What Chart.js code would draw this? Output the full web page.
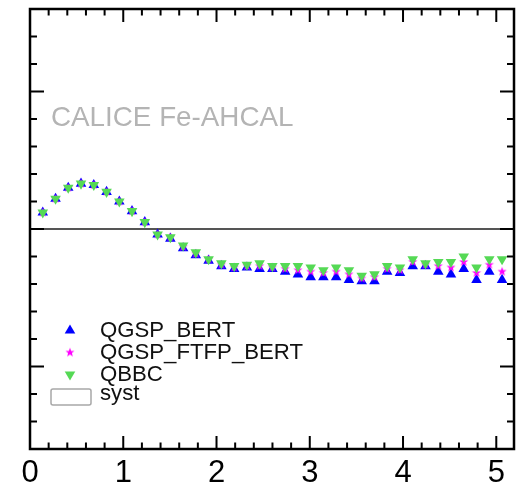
<!DOCTYPE html>
<html>
<head>
<meta charset="utf-8">
<script src="https://cdn.jsdelivr.net/npm/chart.js@4"></script>
<style>
  html, body { margin: 0; padding: 0; background: #fff; }
  canvas { display: block; }
</style>
</head>
<body>
<canvas id="c" width="521" height="490"></canvas>
<script>
// ── Data ──────────────────────────────────────────────────────
const X = [0.137, 0.274, 0.410, 0.547, 0.684, 0.821, 0.958, 1.094, 1.231, 1.368,
           1.505, 1.642, 1.778, 1.915, 2.052, 2.189, 2.326, 2.462, 2.599, 2.736,
           2.873, 3.010, 3.146, 3.283, 3.420, 3.557, 3.694, 3.830, 3.967, 4.104,
           4.241, 4.378, 4.514, 4.651, 4.788, 4.925, 5.062];

const QGSP_BERT = [1.012, 1.022, 1.030, 1.033, 1.032, 1.027, 1.020, 1.013, 1.005, 0.996,
                   0.993, 0.986, 0.981, 0.977, 0.973, 0.971, 0.972, 0.971, 0.971, 0.969,
                   0.967, 0.965, 0.965, 0.965, 0.963, 0.962, 0.962, 0.969, 0.968, 0.973,
                   0.973, 0.969, 0.967, 0.971, 0.963, 0.969, 0.963];

const QGSP_FTFP_BERT = [1.012, 1.022, 1.030, 1.033, 1.032, 1.027, 1.020, 1.013, 1.005, 0.996,
                        0.994, 0.987, 0.982, 0.978, 0.974, 0.972, 0.973, 0.973, 0.972, 0.971,
                        0.970, 0.969, 0.968, 0.969, 0.967, 0.964, 0.965, 0.971, 0.970, 0.976,
                        0.974, 0.973, 0.972, 0.976, 0.968, 0.974, 0.969];

const QBBC = [1.012, 1.022, 1.030, 1.033, 1.032, 1.027, 1.020, 1.013, 1.005, 0.996,
              0.994, 0.988, 0.983, 0.978, 0.975, 0.973, 0.974, 0.975, 0.973, 0.973,
              0.973, 0.972, 0.970, 0.972, 0.970, 0.966, 0.967, 0.973, 0.972, 0.978,
              0.975, 0.976, 0.976, 0.980, 0.972, 0.978, 0.978];

const X_MAJOR = [0, 1, 2, 3, 4, 5];
const X_MINOR = [0.2, 0.4, 0.6, 0.8, 1.2, 1.4, 1.6, 1.8, 2.2, 2.4, 2.6, 2.8,
                 3.2, 3.4, 3.6, 3.8, 4.2, 4.4, 4.6, 4.8];
const Y_MAJOR = [0.9, 1.0, 1.1];
const Y_MINOR = [0.86, 0.88, 0.92, 0.94, 0.96, 0.98, 1.02, 1.04, 1.06, 1.08, 1.12, 1.14];
const REF_LINE = 1.0;
const TITLE = 'CALICE Fe-AHCAL';

const BLUE = '#0000ff';
const PINK = '#ff00ff';
const GREEN = '#55d955';
const FONT = "'Liberation Sans', Arial, sans-serif";

// filled five-point star (ROOT marker 29) as an image point style
function makeStar(color, rOut, rIn) {
  const s = Math.ceil(rOut * 2 + 2);
  const cv = document.createElement('canvas');
  cv.width = s; cv.height = s;
  const g = cv.getContext('2d');
  g.fillStyle = color;
  g.beginPath();
  for (let i = 0; i < 10; i++) {
    const r = i % 2 ? rIn : rOut;
    const a = -Math.PI / 2 + i * Math.PI / 5;
    const px = s / 2 + r * Math.cos(a), py = s / 2 + r * Math.sin(a);
    i ? g.lineTo(px, py) : g.moveTo(px, py);
  }
  g.closePath();
  g.fill();
  return cv;
}
const STAR = makeStar(PINK, 4.8, 2);

const pts = ys => X.map((x, i) => ({ x, y: ys[i] }));

const series = [
  { label: 'QGSP_BERT', data: pts(QGSP_BERT), pointStyle: 'triangle', rotation: 0,
    radius: 6.1, color: BLUE, order: 3 },
  { label: 'QGSP_FTFP_BERT', data: pts(QGSP_FTFP_BERT), pointStyle: STAR, rotation: 0,
    radius: 4, color: PINK, order: 2 },
  { label: 'QBBC', data: pts(QBBC), pointStyle: 'triangle', rotation: 180,
    radius: 6.1, color: GREEN, order: 1 }
];

// ── Frame, inward ticks, reference line, text and legend ───────
const decor = {
  id: 'decor',
  beforeDatasetsDraw(chart) {
    const { ctx, chartArea: a, scales: { x, y } } = chart;
    ctx.save();
    ctx.strokeStyle = '#555';
    ctx.lineWidth = 2.2;
    const yr = y.getPixelForValue(REF_LINE);
    ctx.beginPath(); ctx.moveTo(a.left, yr); ctx.lineTo(a.right, yr); ctx.stroke();

    ctx.fillStyle = '#b4b4b4';
    ctx.font = '27.8px ' + FONT;
    ctx.textBaseline = 'alphabetic';
    ctx.fillText(TITLE, 51, 126);
    ctx.restore();
  },
  afterDraw(chart) {
    const { ctx, chartArea: a, scales: { x, y } } = chart;
    ctx.save();
    ctx.strokeStyle = '#000';
    ctx.lineWidth = 2;
    const tick = (vals, len) => {
      vals.forEach(v => {
        const px = x.getPixelForValue(v);
        ctx.beginPath();
        ctx.moveTo(px, a.bottom); ctx.lineTo(px, a.bottom - len);
        ctx.moveTo(px, a.top); ctx.lineTo(px, a.top + len);
        ctx.stroke();
      });
    };
    const ytick = (vals, len) => {
      vals.forEach(v => {
        const py = y.getPixelForValue(v);
        ctx.beginPath();
        ctx.moveTo(a.left, py); ctx.lineTo(a.left + len, py);
        ctx.moveTo(a.right, py); ctx.lineTo(a.right - len, py);
        ctx.stroke();
      });
    };
    tick(X_MAJOR, 13); tick(X_MINOR, 6.5);
    ytick(Y_MAJOR, 14); ytick(Y_MINOR, 7);

    ctx.lineWidth = 2.5;
    ctx.strokeRect(a.left, a.top, a.right - a.left, a.bottom - a.top);

    // legend
    ctx.font = '22.2px ' + FONT;
    ctx.textBaseline = 'alphabetic';
    const rows = [337, 359, 381];
    series.forEach((s, i) => {
      ctx.fillStyle = s.color;
      ctx.strokeStyle = s.color;
      Chart.helpers.drawPoint(ctx, { pointStyle: s.pointStyle, rotation: s.rotation,
        radius: s.radius, borderWidth: 0 }, 70, rows[i] - 6.5);
      ctx.fillStyle = '#111';
      ctx.fillText(s.label, 100, rows[i]);
    });
    ctx.strokeStyle = '#a8a8a8';
    ctx.lineWidth = 1.5;
    ctx.beginPath();
    ctx.roundRect(51, 389, 40, 16, 2);
    ctx.stroke();
    ctx.fillStyle = '#111';
    ctx.fillText('syst', 100, 400);
    ctx.restore();
  }
};

new Chart(document.getElementById('c'), {
  type: 'scatter',
  data: {
    datasets: series.map(s => ({
      label: s.label,
      data: s.data,
      order: s.order,
      pointStyle: s.pointStyle,
      rotation: s.rotation,
      pointRadius: s.radius,
      pointHoverRadius: s.radius,
      borderWidth: 0,
      backgroundColor: s.color,
      borderColor: s.color,
      showLine: false
    }))
  },
  options: {
    responsive: false,
    animation: false,
    devicePixelRatio: 1,
    layout: { padding: { left: 30, right: 7, top: 9, bottom: 0 } },
    plugins: { legend: { display: false }, tooltip: { enabled: false } },
    scales: {
      x: {
        type: 'linear',
        min: 0,
        max: 5.19,
        grid: { display: false },
        border: { display: false },
        ticks: {
          stepSize: 1,
          includeBounds: false,
          color: '#000',
          padding: -2,
          maxRotation: 0,
          font: { family: FONT, size: 31 }
        },
        afterFit(scale) { scale.height = 41; }
      },
      y: {
        display: false,
        min: 0.84,
        max: 1.16
      }
    }
  },
  plugins: [decor]
});
</script>
</body>
</html>
